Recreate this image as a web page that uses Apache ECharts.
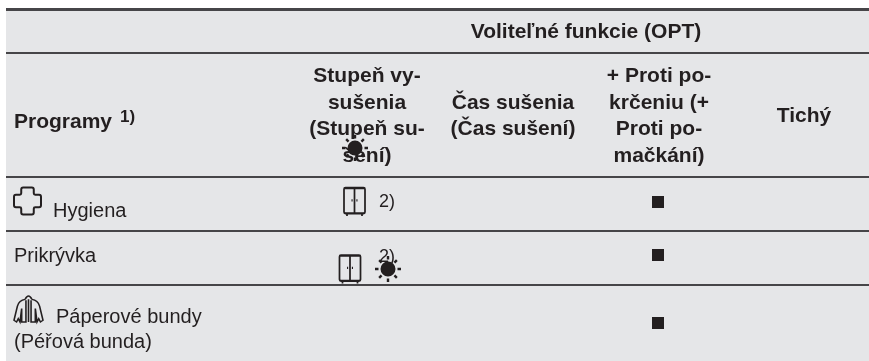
<!DOCTYPE html>
<html><head><meta charset="utf-8">
<style>html,body{margin:0;padding:0;background:#fff}#c{width:869px;height:361px}</style>
<script src="https://cdn.jsdelivr.net/npm/echarts@6/dist/echarts.min.js"></script>
</head><body><div id="c"></div>
<script>
// ---- content ----
const groupHeader = 'Voliteľné funkcie (OPT)';
const programsHeader = 'Programy';
const programsNote = '1)';
const dryLevelHeader = ['Stupeň vy-', 'sušenia', '(Stupeň su-', 'šení)'];
const dryTimeHeader = ['Čas sušenia', '(Čas sušení)'];
const antiCreaseHeader = ['+ Proti po-', 'krčeniu (+', 'Proti po-', 'mačkání)'];
const quietHeader = ['Tichý'];
const rowHygiene = ['Hygiena'];
const rowBlanket = ['Prikrývka'];
const rowDown = ['Páperové bundy', '(Péřová bunda)'];
const footnoteMark = '2)';

// ---- table layout (axis units) ----
const W = 869, H = 361;
const panel = [6, 9, 869, 361];
const thickRules = [9.5];
const mediumRules = [53, 177, 231, 285];
const headBase4 = [82, 109, 135, 162];
const colCentre = {dry: 367, time: 513, crease: 659, quiet: 804, group: 586};
const textLeft = 14;
const ink = '#231f20', rule = '#464548', fill = '#e5e6e8';
const face = '"Liberation Sans", Arial, sans-serif';
const boldFont = 'bold 21px ' + face;
const regFont = '20px ' + face;
const noteFont = '18px ' + face;
const boldNote = 'bold 17px ' + face;
const descent = {[boldFont]: 5, [regFont]: 5, [noteFont]: 4, [boldNote]: 4};

const texts = [];
const put = (x, y, t, font, align) => texts.push([x, y + descent[font], t, font, align || 'left']);
put(colCentre.group, 38, groupHeader, boldFont, 'center');
put(textLeft, 127.5, programsHeader, boldFont);
put(120, 122, programsNote, boldNote);
dryLevelHeader.forEach((t, i) => put(colCentre.dry, headBase4[i], t, boldFont, 'center'));
dryTimeHeader.forEach((t, i) => put(colCentre.time, [109, 135][i], t, boldFont, 'center'));
antiCreaseHeader.forEach((t, i) => put(colCentre.crease, headBase4[i], t, boldFont, 'center'));
put(colCentre.quiet, 122, quietHeader[0], boldFont, 'center');
put(53, 216, rowHygiene[0], regFont);
put(textLeft, 261, rowBlanket[0], regFont);
put(56, 322, rowDown[0], regFont);
put(textLeft, 347, rowDown[1], regFont);
put(379, 207, footnoteMark, noteFont);
put(379, 262, footnoteMark, noteFont);

const squareMarks = [[658, 202], [658, 255], [658, 323]];
const wardrobeMarks = [[354.5, 202], [350, 269.5]];
const sunMarks = [[355, 148], [388, 269]];
const crossMarks = [[27.5, 201]];
const jacketMarks = [[28.5, 309]];

const wardrobePath = 'path://M3 0H27Q29 0 29 2V37Q29 39 27 39H3Q1 39 1 37V2Q1 0 3 0ZM15 0V39M11 19H12.5M17.5 19H19M5 39V43M25 39V43';
const crossPath = 'path://M8.5 3Q8.5 1 10.5 1H19.5Q21.5 1 21.5 3V7Q21.5 8.5 23 8.5H27Q29 8.5 29 10.5V19.5Q29 21.5 27 21.5H23Q21.5 21.5 21.5 23V27Q21.5 29 19.5 29H10.5Q8.5 29 8.5 27V23Q8.5 21.5 7 21.5H3Q1 21.5 1 19.5V10.5Q1 8.5 3 8.5H7Q8.5 8.5 8.5 7Z';
const jacketPath = 'path://M13 5Q15 1 17 1Q19 1 21 5M13 5Q6 6 4 13L0 30L3 32L5 28L7 32L9 16M21 5Q28 6 30 13L34 30L31 32L29 28L27 32L25 16M9 16V32H14V6M25 16V32H20V6M17 5V32';
const sunPath = 'path://M13 5.5A7.5 7.5 0 1 0 13 20.5A7.5 7.5 0 1 0 13 5.5ZM11.8 0H14.2V3.5H11.8ZM11.8 22.5H14.2V26H11.8ZM0 11.8H3.5V14.2H0ZM22.5 11.8H26V14.2H22.5ZM3.3 5L5 3.3L7.4 5.7L5.7 7.4ZM21 3.3L22.7 5L20.3 7.4L18.6 5.7ZM3.3 21L5 22.7L7.4 20.3L5.7 18.6ZM22.7 21L21 22.7L18.6 20.3L20.3 18.6Z';

const iconSeries = (data, symbol, size, filled, z, width) => ({
  type: 'scatter', data, symbol, symbolSize: size, z, silent: true,
  itemStyle: filled ? {color: ink, opacity: 1}
                    : {color: 'rgba(0,0,0,0)', borderColor: ink, borderWidth: width, opacity: 1}
});

const chart = echarts.init(document.getElementById('c'), null, {renderer: 'canvas'});
chart.setOption({
  animation: false,
  backgroundColor: '#ffffff',
  grid: {left: 0, right: 0, top: 0, bottom: 0},
  xAxis: {type: 'value', min: 0, max: W, show: false},
  yAxis: {type: 'value', min: 0, max: H, inverse: true, show: false},
  tooltip: {show: false},
  series: [
    {type: 'custom', z: 1, silent: true, clip: false, data: [panel],
     renderItem(p, api) {
       const a = api.coord([api.value(0), api.value(1)]), b = api.coord([api.value(2), api.value(3)]);
       return {type: 'rect', shape: {x: a[0], y: a[1], width: b[0] - a[0], height: b[1] - a[1]}, style: {fill}};
     }},
    {type: 'custom', z: 2, silent: true, data: mediumRules.map(y => [y, 2]).concat(thickRules.map(y => [y, 3])),
     renderItem(p, api) {
       const a = api.coord([panel[0], api.value(0)]), b = api.coord([panel[2], api.value(0)]);
       return {type: 'line', shape: {x1: a[0], y1: a[1], x2: b[0], y2: b[1]}, style: {stroke: rule, lineWidth: api.value(1)}};
     }},
    {type: 'custom', z: 3, silent: true, data: texts.map((t, i) => [t[0], t[1], i]),
     renderItem(p, api) {
       const c = api.coord([api.value(0), api.value(1)]);
       const t = texts[api.value(2)];
       return {type: 'text', x: c[0], y: c[1],
         style: {text: t[2], font: t[3], fill: ink, textAlign: t[4], verticalAlign: 'bottom'}};
     }},
    iconSeries(squareMarks, 'rect', 12, true, 4),
    iconSeries(wardrobeMarks, wardrobePath, [21, 28], false, 4, 2),
    iconSeries(crossMarks, crossPath, [27, 27], false, 4, 2),
    iconSeries(jacketMarks, jacketPath, [29, 26], false, 4, 1.5),
    iconSeries(sunMarks, sunPath, [26, 26], true, 5)
  ]
});
</script></body></html>
